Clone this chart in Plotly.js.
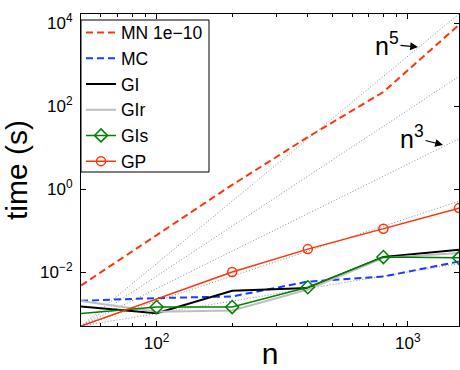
<!DOCTYPE html>
<html>
<head>
<meta charset="utf-8">
<script src="https://cdn.plot.ly/plotly-3.0.1.min.js"></script>
<style>html,body{margin:0;padding:0;background:#fff;}#chart{width:460px;height:370px;}</style>
</head>
<body>
<div id="chart"></div>
<script>
// ---- data ----
const nVals = [50, 100, 200, 400, 800, 1600];
const mnTime  = [4.75e-3, 0.078, 1.27, 18, 221, 9200];       // MN 1e-10
const mcTime  = [2.03e-3, 2.36e-3, 2.58e-3, 5.9e-3, 7.8e-3, 0.018]; // MC
const giTime  = [1.48e-3, 1.02e-3, 3.55e-3, 4.1e-3, 0.023, 0.0344]; // GI
const girTime = [2.0e-3, 1.1e-3, 1.19e-3, 3.8e-3, 0.022, 0.029];    // GIr
const gisTime = [1.0e-3, 1.43e-3, 1.43e-3, 4.3e-3, 0.023, 0.022];   // GIs
const gpN     = [50, 200, 400, 800, 1600];
const gpTime  = [5.0e-4, 0.010, 0.0358, 0.111, 0.349];               // GP
// dotted guide lines n^1 ... n^5 (start and end values)
const guideN  = [50, 1600];
const guide1  = [5.0e-4, 0.016];
const guide2  = [5.0e-4, 0.512];
const guide3  = [5.0e-4, 16.38];
const guide4  = [5.0e-4, 524.3];
const guide5  = [5.0e-4, 16777];
const seriesNames = ['MN 1e\u221210', 'MC', 'GI', 'GIr', 'GIs', 'GP'];
const xTickVals = [100, 1000];
const xTickText = ['10<sup>2</sup>', '10<sup>3</sup>'];
const xMinorVals = [60, 70, 80, 90, 200, 300, 400, 500, 600, 700, 800, 900];
const yTickVals = [1e-2, 1, 1e2, 1e4];
const yTickText = ['10<sup>\u22122</sup>', '10<sup>0</sup>', '10<sup>2</sup>', '10<sup>4</sup>'];

const FONT = 'Liberation Sans, Arial, Helvetica, sans-serif';
const RED = 'rgb(255,51,10)';
const BLUE = 'rgb(25,60,255)';
const GREEN = 'rgb(0,128,0)';
const GRAY = 'rgb(190,190,190)';

const traces = [];
[guide1, guide2, guide3, guide4, guide5].forEach(g => {
  traces.push({x: guideN, y: g, mode: 'lines', showlegend: false, hoverinfo: 'skip',
    line: {color: 'rgb(140,140,140)', width: 1, dash: '1px,2px'}, cliponaxis: true});
});
traces.push({x: nVals, y: mnTime, name: seriesNames[0], mode: 'lines',
  line: {color: RED, width: 2, dash: '7px,4px'}, cliponaxis: false});
traces.push({x: nVals, y: mcTime, name: seriesNames[1], mode: 'lines',
  line: {color: BLUE, width: 2, dash: '7px,4px'}, cliponaxis: false});
traces.push({x: nVals, y: giTime, name: seriesNames[2], mode: 'lines',
  line: {color: 'black', width: 2}, cliponaxis: false});
traces.push({x: nVals, y: girTime, name: seriesNames[3], mode: 'lines',
  line: {color: GRAY, width: 2}, cliponaxis: false});
traces.push({x: nVals, y: gisTime, name: seriesNames[4], mode: 'lines+markers',
  line: {color: GREEN, width: 1.5},
  marker: {symbol: 'diamond-open', size: 10, color: GREEN, line: {width: 1.5, color: GREEN}},
  cliponaxis: false});
traces.push({x: gpN, y: gpTime, name: seriesNames[5], mode: 'lines+markers',
  line: {color: RED, width: 1.5},
  marker: {symbol: 'circle-open', size: 9, color: RED, line: {width: 1.5, color: RED}},
  cliponaxis: false});

const L = 81, R = 1, T = 14, B = 44, W = 460, H = 370;
const pw = W - L - R, ph = H - T - B;
const px = xp => (xp - L) / pw;
const py = yp => (T + ph - yp) / ph;

const layout = {
  width: W, height: H,
  margin: {l: L, r: R, t: T, b: B, pad: 0},
  paper_bgcolor: 'white', plot_bgcolor: 'white',
  font: {family: FONT, size: 17, color: 'black'},
  showlegend: true,
  legend: {x: px(81), y: py(14.5), xanchor: 'left', yanchor: 'top',
    bgcolor: 'rgba(0,0,0,0)', borderwidth: 0,
    font: {family: FONT, size: 17.5, color: 'black'}, tracegroupgap: 0},
  shapes: [
    {type: 'rect', xref: 'paper', yref: 'paper', x0: px(81), x1: px(209), y0: py(172), y1: py(20),
     fillcolor: 'white', line: {color: 'black', width: 1}, layer: 'above'}
  ],
  xaxis: {type: 'log',
    range: [Math.log10(nVals[0]), Math.log10(nVals[nVals.length - 1])],
    tickmode: 'array', tickvals: xTickVals, ticktext: xTickText,
    ticks: 'inside', ticklen: 5, tickwidth: 1, tickcolor: 'black',
    minor: {tickmode: 'array', tickvals: xMinorVals, ticks: 'inside', ticklen: 3, tickwidth: 1, tickcolor: 'black', showgrid: false},
    showline: true, linecolor: 'black', linewidth: 1, mirror: 'ticks',
    showgrid: false, zeroline: false,
    tickfont: {family: FONT, size: 17, color: 'black'},
    ticklabelstandoff: 2,
    title: {text: 'n', font: {family: FONT, size: 30, color: 'black'}, standoff: 0}},
  yaxis: {type: 'log',
    range: [Math.log10(guide5[0]), Math.log10(guide5[1])],
    tickmode: 'array', tickvals: yTickVals, ticktext: yTickText,
    ticks: 'inside', ticklen: 5, tickwidth: 1, tickcolor: 'black',
    showline: true, linecolor: 'black', linewidth: 1, mirror: 'ticks',
    showgrid: false, zeroline: false,
    tickfont: {family: FONT, size: 17, color: 'black'},
    ticklabelstandoff: 4,
    title: {text: 'time (s)', font: {family: FONT, size: 30, color: 'black'}, standoff: 6}},
  annotations: [
    {xref: 'paper', yref: 'paper', x: px(418), y: py(47), ax: -31, ay: -3,
     text: 'n<sup>5</sup>', showarrow: true, arrowhead: 2, arrowsize: 1.3, arrowwidth: 1.2,
     arrowcolor: 'black', standoff: 0, font: {family: FONT, size: 25, color: 'black'}},
    {xref: 'paper', yref: 'paper', x: px(443), y: py(145), ax: -31, ay: -8,
     text: 'n<sup>3</sup>', showarrow: true, arrowhead: 2, arrowsize: 1.3, arrowwidth: 1.2,
     arrowcolor: 'black', standoff: 0, font: {family: FONT, size: 25, color: 'black'}}
  ]
};

Plotly.newPlot('chart', traces, layout, {staticPlot: true, displayModeBar: false});
</script>
</body>
</html>
